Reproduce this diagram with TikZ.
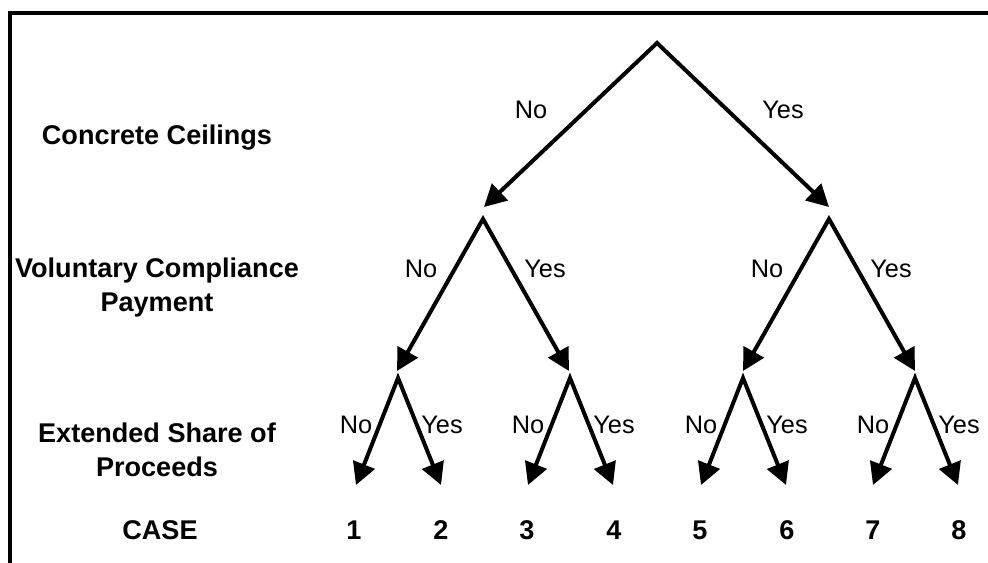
\documentclass[tikz,border=0pt]{standalone}
\usepackage{fontspec}
\setmainfont{Liberation Sans}
\usetikzlibrary{arrows.meta}

\begin{document}
\begin{tikzpicture}[
    x=0.75pt, y=-0.75pt,
    crit/.style={
        font=\fontsize{20.3}{25.5}\selectfont\bfseries,
        align=center,
        anchor=base,
        inner sep=0pt
    },
    branch/.style={
        font=\fontsize{19}{21}\selectfont,
        anchor=base,
        inner sep=0pt
    },
    arrow/.style={
        line width=3pt,
        line join=miter,
        {Triangle[length=16.5pt, width=17pt]}-{Triangle[length=16.5pt, width=17pt]}
    }
]

\clip (0,0) rectangle (988,562);
\draw[line width=3pt] (10,600) -- (10,13) -- (1000,13);

% criteria
\node[crit] (ceil) at (157,144) {Concrete Ceilings};
\node[crit] (pay) at (157,311) {Voluntary Compliance\\Payment};
\node[crit] (share) at (157,476) {Extended Share of\\Proceeds};
\node[crit] (case) at (160,539) {CASE};

% first split
\coordinate (root) at (657,43);
\draw[arrow] (484,207) -- (root) -- (829,207);
\node[branch] (no0) at (531,118) {No};
\node[branch] (yes0) at (783,118) {Yes};

% second split
\foreach \ap [count=\i] in {483,829} {
    \coordinate (q\i) at (\ap,219);
    \draw[arrow] (\ap-86,371) -- (q\i) -- (\ap+86,371);
    \node[branch] (noq\i) at (\ap-62,277) {No};
    \node[branch] (yesq\i) at (\ap+62,277) {Yes};
}

% third split
\foreach \ap [count=\i] in {398,570,743,915} {
    \coordinate (p\i) at (\ap,378);
    \draw[arrow] (\ap-42,485) -- (p\i) -- (\ap+43,485);
    \node[branch] (nop\i) at (\ap-42,433) {No};
    \node[branch] (yesp\i) at (\ap+44,433) {Yes};
}

% cases
\foreach \cx [count=\i] in {354,441,527,614,700,787,873,959}
    \node[crit] (c\i) at (\cx,539) {\i};

\end{tikzpicture}
\end{document}
